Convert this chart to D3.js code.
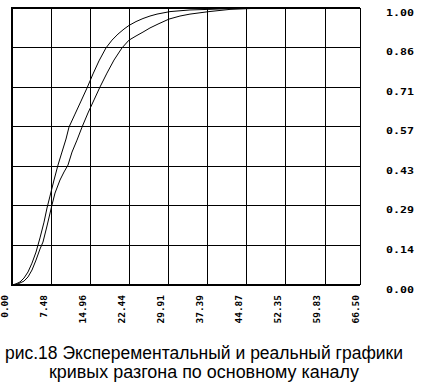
<!DOCTYPE html>
<html>
<head>
  <meta charset="utf-8">
  <style>
    body { margin: 0; background: #fff; }
    svg { display: block; }
  </style>
</head>
<body>
  <svg width="426" height="382"></svg>
<script src="https://cdnjs.cloudflare.com/ajax/libs/d3/7.8.5/d3.min.js"></script>
<script>

// tick labels as printed on the chart
var xTicks = [0, 7.48, 14.96, 22.44, 29.91, 37.39, 44.87, 52.35, 59.83, 66.50];
var yLabels = ["0.00", "0.14", "0.29", "0.43", "0.57", "0.71", "0.86", "1.00"];

// experimental curve (left one)
var expTime  = [0, 0.76, 1.53, 2.29, 3.06, 3.82, 4.59, 5.35, 6.12, 6.69, 7.26, 8.03, 8.79, 9.55,
                10.32, 10.89, 12.04, 13.19, 14.33, 15.48, 16.62, 17.96, 19.11, 20.26, 21.40, 22.36,
                23.70, 25.03, 26.37, 27.71, 30.19, 34.01, 37.64, 41.66, 47.02];
var expValue = [0, 0.004, 0.011, 0.025, 0.047, 0.079, 0.119, 0.170, 0.227, 0.278, 0.321, 0.379, 0.433, 0.480,
                0.527, 0.570, 0.617, 0.664, 0.711, 0.762, 0.809, 0.856, 0.884, 0.906, 0.924, 0.937,
                0.951, 0.962, 0.971, 0.978, 0.987, 0.993, 0.995, 0.998, 1.0];

// real curve (right one)
var realTime  = [0, 1.15, 2.29, 3.06, 3.82, 4.59, 5.35, 5.92, 6.69, 7.64, 8.22, 9.17, 9.94, 10.70,
                 11.47, 12.42, 13.38, 14.52, 15.67, 16.82, 18.15, 19.49, 21.02, 22.36, 23.70, 25.03,
                 26.37, 27.90, 30.00, 32.10, 34.01, 37.64, 41.66, 45.48, 47.02];
var realValue = [0, 0.004, 0.014, 0.029, 0.054, 0.090, 0.130, 0.155, 0.213, 0.289, 0.332, 0.379, 0.408, 0.433,
                 0.480, 0.523, 0.570, 0.621, 0.668, 0.715, 0.765, 0.812, 0.856, 0.884, 0.899, 0.913,
                 0.928, 0.942, 0.960, 0.971, 0.978, 0.987, 0.995, 0.998, 1.0];

var captionLines = ["рис.18 Эксперементальный и реальный графики",
                    "кривых разгона по основному каналу"];

var svg = d3.select("svg");

var x = d3.scaleLinear().domain([0, 66.5]).range([12, 360]);
var y = d3.scaleLinear().domain([0, 1]).range([285, 8]);

var grid = svg.append("g").attr("shape-rendering", "crispEdges").attr("stroke", "#000");

// vertical grid
grid.selectAll(".vx")
  .data(xTicks.slice(1, -1))
  .enter().append("line")
    .attr("x1", function(d) { return x(d); })
    .attr("x2", function(d) { return x(d); })
    .attr("y1", y(0)).attr("y2", y(1))
    .attr("stroke-width", 1);

// horizontal grid
grid.selectAll(".hy")
  .data(yLabels.slice(1, -1))
  .enter().append("line")
    .attr("x1", x(0)).attr("x2", x(66.5))
    .attr("y1", function(d, i) { return y((i + 1) / 7); })
    .attr("y2", function(d, i) { return y((i + 1) / 7); })
    .attr("stroke-width", 1);

// frame
grid.append("line").attr("x1", x(66.5)).attr("x2", x(66.5)).attr("y1", y(0)).attr("y2", y(1)).attr("stroke-width", 1);
grid.append("line").attr("x1", x(0)).attr("x2", x(66.5)).attr("y1", y(1)).attr("y2", y(1)).attr("stroke-width", 2);
grid.append("line").attr("x1", x(0)).attr("x2", x(66.5)).attr("y1", y(0)).attr("y2", y(0)).attr("stroke-width", 2);
grid.append("line").attr("x1", x(0)).attr("x2", x(0)).attr("y1", y(0) + 1).attr("y2", y(1) - 1).attr("stroke-width", 2);

// curves
var line = d3.line()
    .x(function(d) { return x(d[0]); })
    .y(function(d) { return y(d[1]); });

svg.append("path")
    .datum(d3.zip(expTime, expValue))
    .attr("d", line)
    .attr("fill", "none").attr("stroke", "#000").attr("stroke-width", 1);

svg.append("path")
    .datum(d3.zip(realTime, realValue))
    .attr("d", line)
    .attr("fill", "none").attr("stroke", "#000").attr("stroke-width", 1);

// y labels on the right
svg.selectAll(".ylab")
  .data(yLabels)
  .enter().append("text")
    .attr("x", 386)
    .attr("y", function(d, i) { return y(i / 7) + 7.5; })
    .attr("textLength", 28)
    .attr("lengthAdjust", "spacingAndGlyphs")
    .style("font", "bold 8px 'DejaVu Sans Mono'")
    .text(function(d) { return d; });

// x labels, rotated, evenly spaced under the axis
svg.selectAll(".xlab")
  .data(xTicks)
  .enter().append("text")
    .attr("transform", function(d, i) { return "translate(" + (5 + 39 * i) + ",295) rotate(-90)"; })
    .attr("dy", "0.36em")
    .attr("text-anchor", "end")
    .attr("textLength", function(d) { return d.toFixed(2).length * 5.7; })
    .attr("lengthAdjust", "spacingAndGlyphs")
    .style("font", "bold 8px 'DejaVu Sans Mono'")
    .text(function(d) { return d.toFixed(2); });

// caption
svg.selectAll(".cap")
  .data(captionLines)
  .enter().append("text")
    .attr("x", 204)
    .attr("y", function(d, i) { return 359 + i * 19; })
    .attr("text-anchor", "middle")
    .attr("textLength", function(d, i) { return i === 0 ? 398 : 310; })
    .attr("lengthAdjust", "spacingAndGlyphs")
    .style("font", "17.5px 'Liberation Sans', Arial, sans-serif")
    .text(function(d) { return d; });

</script>
</body>
</html>
